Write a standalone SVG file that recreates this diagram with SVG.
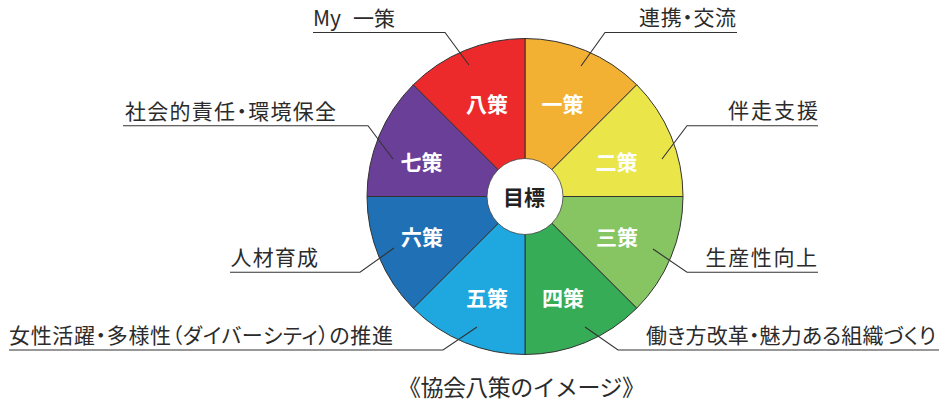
<svg xmlns="http://www.w3.org/2000/svg" width="939" height="405" viewBox="0 0 939 405">
<style>
.lbl{font-family:"Noto Sans CJK JP","Noto Sans",sans-serif;font-size:21px;fill:#2b2b2b;font-feature-settings:"palt";}
.seg{font-family:"Noto Sans CJK JP","Noto Sans",sans-serif;font-size:21px;font-weight:700;fill:#ffffff;text-anchor:middle;}
.wedge{stroke:#333333;stroke-width:1;stroke-linejoin:round;}
.lead{fill:none;stroke:#333333;stroke-width:1.1;}
</style>
<rect width="939" height="405" fill="#ffffff"/>
<g id="wheel">
<g id="s1"><path class="wedge" fill="#F3B133" d="M525,196.5 L525,38.5 A158,158 0 0 1 636.72,84.78 Z"/><text class="seg" x="562.5" y="112">一策</text></g>
<g id="s2"><path class="wedge" fill="#EAE64A" d="M525,196.5 L636.72,84.78 A158,158 0 0 1 683,196.5 Z"/><text class="seg" x="616.5" y="170">二策</text></g>
<g id="s3"><path class="wedge" fill="#86C562" d="M525,196.5 L683,196.5 A158,158 0 0 1 636.72,308.22 Z"/><text class="seg" x="617" y="245">三策</text></g>
<g id="s4"><path class="wedge" fill="#37AC57" d="M525,196.5 L636.72,308.22 A158,158 0 0 1 525,354.5 Z"/><text class="seg" x="563" y="306">四策</text></g>
<g id="s5"><path class="wedge" fill="#1EA8DF" d="M525,196.5 L525,354.5 A158,158 0 0 1 413.28,308.22 Z"/><text class="seg" x="487" y="306">五策</text></g>
<g id="s6"><path class="wedge" fill="#1F70B4" d="M525,196.5 L413.28,308.22 A158,158 0 0 1 367,196.5 Z"/><text class="seg" x="422" y="245">六策</text></g>
<g id="s7"><path class="wedge" fill="#6A3F98" d="M525,196.5 L367,196.5 A158,158 0 0 1 413.28,84.78 Z"/><text class="seg" x="421.5" y="170">七策</text></g>
<g id="s8"><path class="wedge" fill="#ED2A2B" d="M525,196.5 L413.28,84.78 A158,158 0 0 1 525,38.5 Z"/><text class="seg" x="487" y="112">八策</text></g>
<g id="goal"><circle cx="525" cy="196.5" r="38" fill="#ffffff" stroke="#444444" stroke-width="0.8"/><text class="seg" x="524" y="205" style="fill:#222222">目標</text></g>
</g>
<g id="connectors">
<polyline class="lead" points="313,32.5 445,32.5 469,65"/>
<polyline class="lead" points="123,125.7 368,125.7 393,159"/>
<polyline class="lead" points="737,32.5 605,32.5 581,66"/>
<polyline class="lead" points="818,125.7 687,125.7 662,159"/>
<polyline class="lead" points="230,272.3 360,272.3 394,248"/>
<polyline class="lead" points="9,350 443,350 477,327"/>
<polyline class="lead" points="818,272.3 687,272.3 653,249"/>
<polyline class="lead" points="939,350 618,350 585,327"/>
</g>
<g id="label-my"><text class="lbl" x="313" y="26">My <tspan x="353">一策</tspan></text></g>
<g id="label-csr"><text class="lbl" x="125" y="118.5" textLength="211">社会的責任・環境保全</text></g>
<g id="label-renkei"><text class="lbl" x="639" y="24.5" textLength="97">連携・交流</text></g>
<g id="label-bansou"><text class="lbl" x="728" y="117.5" textLength="90">伴走支援</text></g>
<g id="label-jinzai"><text class="lbl" x="230.5" y="265" textLength="87.5">人材育成</text></g>
<g id="label-josei"><text class="lbl" x="9" y="342.5" textLength="384">女性活躍・多様性（ダイバーシティ）の推進</text></g>
<g id="label-seisan"><text class="lbl" x="705.5" y="265" textLength="111.5">生産性向上</text></g>
<g id="label-hataraki"><text class="lbl" x="646" y="342.5" textLength="290">働き方改革・魅力ある組織づくり</text></g>
<g id="title"><text class="lbl" x="398" y="396" textLength="247" style="font-size:23px;font-feature-settings:normal">《協会八策のイメージ》</text></g>
</svg>
